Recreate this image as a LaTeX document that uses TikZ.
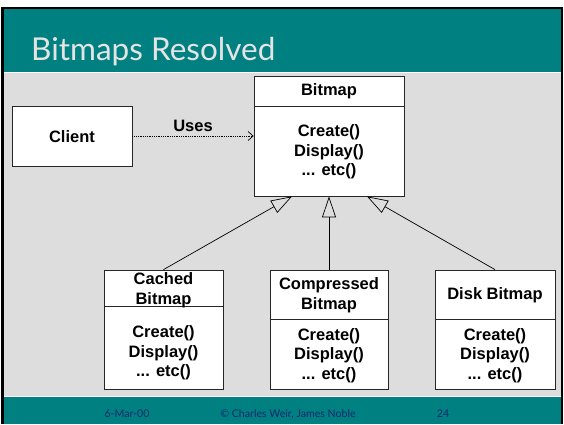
\documentclass[tikz,border=0pt]{standalone}
\usepackage{fontspec}
\setmainfont{Liberation Sans}
\newfontfamily\titlefont{Lato}
\usetikzlibrary{arrows.meta}
\definecolor{slideteal}{RGB}{0,128,128}
\definecolor{slidegray}{RGB}{221,221,221}
\definecolor{titlegray}{RGB}{228,228,228}
\definecolor{footblue}{RGB}{20,40,110}
\begin{document}
\begin{tikzpicture}[x=1pt,y=-1pt,
  box/.style={draw=black!85, fill=white, line width=0.8pt, inner sep=0pt},
  txt/.style={inner sep=0pt, align=center, font=\fontsize{16.5}{19.7}\selectfont\bfseries},
  inh/.style={draw=black, line width=0.7pt, -{Triangle[open, length=21pt, width=14pt, line width=0.7pt]}},
  uses/.style={draw=black, line width=0.7pt, dash pattern=on 0.8pt off 1pt, -{Straight Barb[length=5pt, width=9pt, line width=0.7pt]}},
  foot/.style={font=\titlefont\fontsize{10.6}{10.6}\selectfont, text=footblue, inner sep=0pt}]
\useasboundingbox (0,0) rectangle (564,424);
% slide frame
\fill[white] (0,0) rectangle (564,424);
\fill[black] (1,7) rectangle (563,424);
\fill[white] (4,9) rectangle (561,424);
\fill[slideteal] (4,9) rectangle (561,72);
\fill[slidegray] (4,73) rectangle (561,395.5);
\fill[slideteal] (4,396.5) rectangle (561,424);
% title
\node[anchor=base west, inner sep=0pt, text=titlegray, font=\titlefont\fontsize{31.5}{31.5}\selectfont] (title) at (31,60) {Bitmaps Resolved};
% class boxes
\node[box, minimum width=150pt, minimum height=30pt] (bmH) at (329,91) {};
\node[box, minimum width=150pt, minimum height=90pt] (bmB) at (329,151) {};
\node[box, minimum width=120pt, minimum height=60pt] (client) at (72,136) {};
\node[box, minimum width=119pt, minimum height=36pt] (cachedH) at (163.5,288) {};
\node[box, minimum width=119pt, minimum height=83pt] (cachedB) at (163.5,347.5) {};
\node[box, minimum width=118pt, minimum height=49pt] (compH) at (329,294.5) {};
\node[box, minimum width=118pt, minimum height=70pt] (compB) at (329,354) {};
\node[box, minimum width=120pt, minimum height=49pt] (diskH) at (495,294.5) {};
\node[box, minimum width=120pt, minimum height=70pt] (diskB) at (495,354) {};
% texts
\node[txt] (bmHt) at (329,91.5) {Bitmap};
\node[txt] (bmBt) at (329,152) {Create()\\Display()\\... etc()};
\node[txt] (clientt) at (72,136.5) {Client};
\node[txt] (cachedHt) at (163.5,290.5) {Cached\\Bitmap};
\node[txt] (cachedBt) at (163.5,353) {Create()\\Display()\\... etc()};
\node[txt] (compHt) at (329,295.5) {Compressed\\Bitmap};
\node[txt] (compBt) at (329,355.5) {Create()\\Display()\\... etc()};
\node[txt] (diskHt) at (495,295) {Disk Bitmap};
\node[txt] (diskBt) at (495,355.5) {Create()\\Display()\\... etc()};
% connectors
\path (bmB.south) ++(-37,0) coordinate (t1);
\path (bmB.south) ++(38,0) coordinate (t3);
\draw[inh] (cachedH.north) -- (t1);
\draw[inh] (compH.north) -- (bmB.south);
\draw[inh] (diskH.north) -- (t3);
\draw[uses] (client.east) -- (client.east -| bmB.west)
  node[txt, midway, above, inner sep=4pt] (usest) {Uses};
% footer
\node[foot] (date) at (127,414) {6-Mar-00};
\node[foot] (copy) at (288,414) {© Charles Weir, James Noble};
\node[foot] (page) at (443,414) {24};
\end{tikzpicture}
\end{document}
